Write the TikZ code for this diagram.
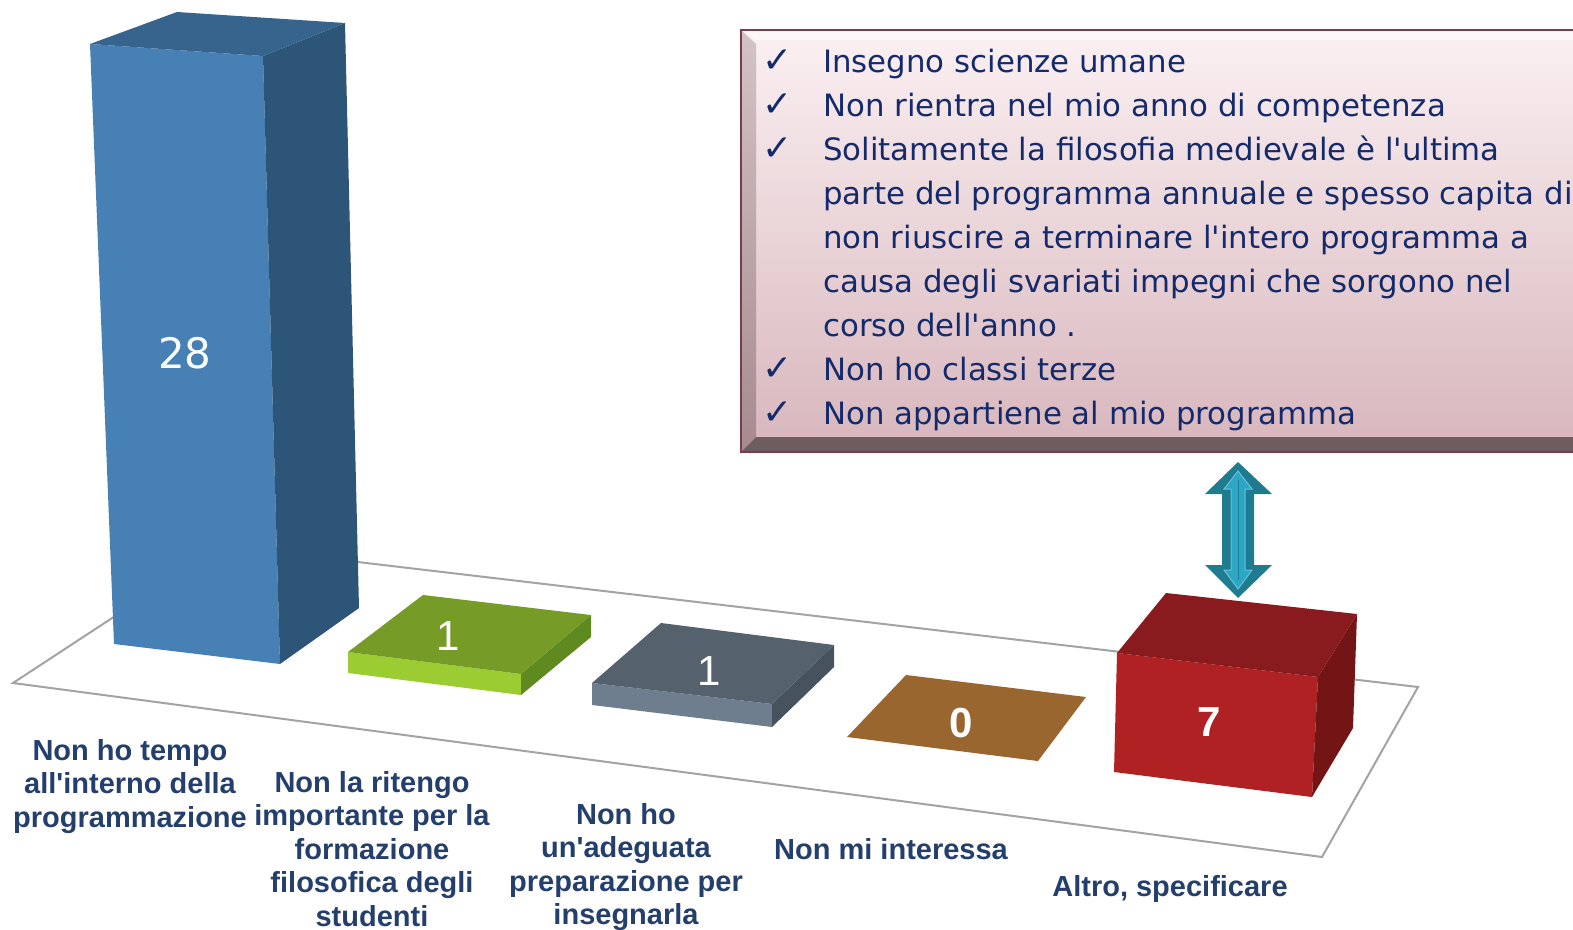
\documentclass[tikz,border=0pt]{standalone}
\usepackage{fontspec}
\newfontfamily\catfont[Ligatures=TeXOff]{Liberation Sans}
\newfontfamily\notefont[Ligatures=TeXOff]{DejaVu Sans}
\definecolor{floorgray}{HTML}{A3A3A3}
\definecolor{catblue}{HTML}{243F6C}
\definecolor{noteblue}{HTML}{142A6A}
\definecolor{blueA}{HTML}{4680B4}
\definecolor{blueB}{HTML}{2D5577}
\definecolor{blueC}{HTML}{37648D}
\definecolor{greenA}{HTML}{9BCD32}
\definecolor{greenB}{HTML}{5F8A1F}
\definecolor{greenC}{HTML}{769C27}
\definecolor{grayA}{HTML}{6E7E8E}
\definecolor{grayB}{HTML}{47525F}
\definecolor{grayC}{HTML}{56616E}
\definecolor{brownC}{HTML}{9A6630}
\definecolor{redA}{HTML}{B02123}
\definecolor{redB}{HTML}{731515}
\definecolor{redC}{HTML}{891A1D}
\definecolor{arrowdark}{HTML}{1F7B8F}
\definecolor{arrowlight}{HTML}{2BA6C4}
\definecolor{boxline}{HTML}{7D3B4E}
\definecolor{boxtop}{HTML}{FBF0F2}
\definecolor{boxbottom}{HTML}{D7B6BC}
\definecolor{bevelA}{HTML}{D3C3C6}
\definecolor{bevelB}{HTML}{A68A8F}
\definecolor{bevelC}{HTML}{6E5D5F}

\begin{document}
\begin{tikzpicture}[x=1pt, y=-1pt,
  floor/.style={draw=floorgray, line width=2pt, fill=white},
  catlabel/.style={anchor=north, inner sep=0pt, align=center, text=catblue,
    font=\catfont\bfseries\fontsize{29}{33.5}\selectfont},
  valnum/.style={inner sep=0pt, text=white, font=\notefont\fontsize{42}{50}\selectfont},
  valflat/.style={inner sep=0pt, text=white, font=\catfont\fontsize{42}{50}\selectfont},
  valbold/.style={inner sep=0pt, text=white, font=\catfont\bfseries\fontsize{42}{50}\selectfont},
  noteline/.style={anchor=base west, inner sep=0pt, text=noteblue,
    font=\notefont\fontsize{30.8}{44}\selectfont},
  tick/.style={anchor=base, inner sep=0pt, text=noteblue,
    font=\notefont\fontsize{36}{44}\selectfont}]
  \useasboundingbox (0,0) rectangle (1573,929);

  % floor of the chart
  \draw[floor] (13,683) -- (222,546) -- (1418,687) -- (1322,857) -- cycle;

  % bar 28
  \fill[blueA] (90,44) -- (263,56) -- (280,664) -- (114,644) -- cycle;
  \fill[blueB] (263,56) -- (345,23) -- (359,608) -- (280,664) -- cycle;
  \fill[blueC] (90,44) -- (177,12) -- (345,23) -- (263,56) -- cycle;
  \node[valnum] (v1) at (185,353) {28};

  % bar 1 (green)
  \fill[greenA] (348,652) -- (521,674) -- (521,695) -- (348,673) -- cycle;
  \fill[greenB] (521,674) -- (591,615) -- (591,637) -- (521,695) -- cycle;
  \fill[greenC] (348,652) -- (423,595) -- (591,615) -- (521,674) -- cycle;
  \node[valflat] (v2) at (448,636) {1};

  % bar 1 (gray)
  \fill[grayA] (592,683) -- (772,704) -- (772,727) -- (592,705) -- cycle;
  \fill[grayB] (772,704) -- (834,645) -- (834,667) -- (772,727) -- cycle;
  \fill[grayC] (592,683) -- (661,623) -- (834,645) -- (772,704) -- cycle;
  \node[valflat] (v3) at (709,671) {1};

  % bar 0
  \fill[brownC] (847,737) -- (906,675) -- (1086,697) -- (1038,761) -- cycle;
  \node[valbold] (v4) at (961,723) {0};

  % bar 7
  \fill[redA] (1117,653) -- (1318,677) -- (1312,797) -- (1114,772) -- cycle;
  \fill[redB] (1318,677) -- (1357,614) -- (1353,728) -- (1312,797) -- cycle;
  \fill[redC] (1117,653) -- (1166,593) -- (1357,614) -- (1318,677) -- cycle;
  \node[valbold] (v5) at (1209,722) {7};

  % double arrow
  \fill[arrowdark] (1238,462) -- (1272,494) -- (1254,494) -- (1254,565) -- (1272,565)
    -- (1238,598) -- (1205,565) -- (1222,565) -- (1222,494) -- (1205,494) -- cycle;
  \draw[arrowlight!70!white, fill=arrowlight, line width=1pt] (1238,471) -- (1252,489)
    -- (1245,489) -- (1245,570) -- (1252,570) -- (1238,589) -- (1224,570) -- (1231,570)
    -- (1231,489) -- (1224,489) -- cycle;
  \draw[arrowdark, line width=1pt] (1238,480) -- (1238,580);

  % note box
  \shade[top color=boxtop, bottom color=boxbottom] (741,30) rectangle (1590,452);
  \fill[white, opacity=0.55] (741,30) -- (1590,30) -- (1590,40) -- (755,40) -- cycle;
  \shade[top color=bevelA, bottom color=bevelB] (741,30) -- (756,44) -- (756,437) -- (741,452) -- cycle;
  \fill[bevelC] (741,452) -- (756,437) -- (1590,437) -- (1590,452) -- cycle;
  \draw[boxline, line width=2pt] (741,30) rectangle (1590,452);

  \node[tick] (k1) at (778,72) {✓};
  \node[tick] (k2) at (778,116) {✓};
  \node[tick] (k3) at (778,160) {✓};
  \node[tick] (k4) at (778,380) {✓};
  \node[tick] (k5) at (778,424) {✓};
  \node[noteline] (n1) at (823,72) {Insegno scienze umane};
  \node[noteline] (n2) at (823,116) {Non rientra nel mio anno di competenza};
  \node[noteline] (n3) at (823,160) {Solitamente la filosofia medievale è l'ultima};
  \node[noteline] (n4) at (823,204) {parte del programma annuale e spesso capita di};
  \node[noteline] (n5) at (823,248) {non riuscire a terminare l'intero programma a};
  \node[noteline] (n6) at (823,292) {causa degli svariati impegni che sorgono nel};
  \node[noteline] (n7) at (823,336) {corso dell'anno .};
  \node[noteline] (n8) at (823,380) {Non ho classi terze};
  \node[noteline] (n9) at (823,424) {Non appartiene al mio programma};

  % category labels
  \node[catlabel] (c1) at (130,739) {Non ho tempo\\all'interno della\\programmazione};
  \node[catlabel] (c2) at (372,771) {Non la ritengo\\importante per la\\formazione\\filosofica degli\\studenti};
  \node[catlabel] (c3) at (626,803) {Non ho\\un'adeguata\\preparazione per\\insegnarla};
  \node[catlabel] (c4) at (891,838) {Non mi interessa};
  \node[catlabel] (c5) at (1170,875) {Altro, specificare};
\end{tikzpicture}
\end{document}
